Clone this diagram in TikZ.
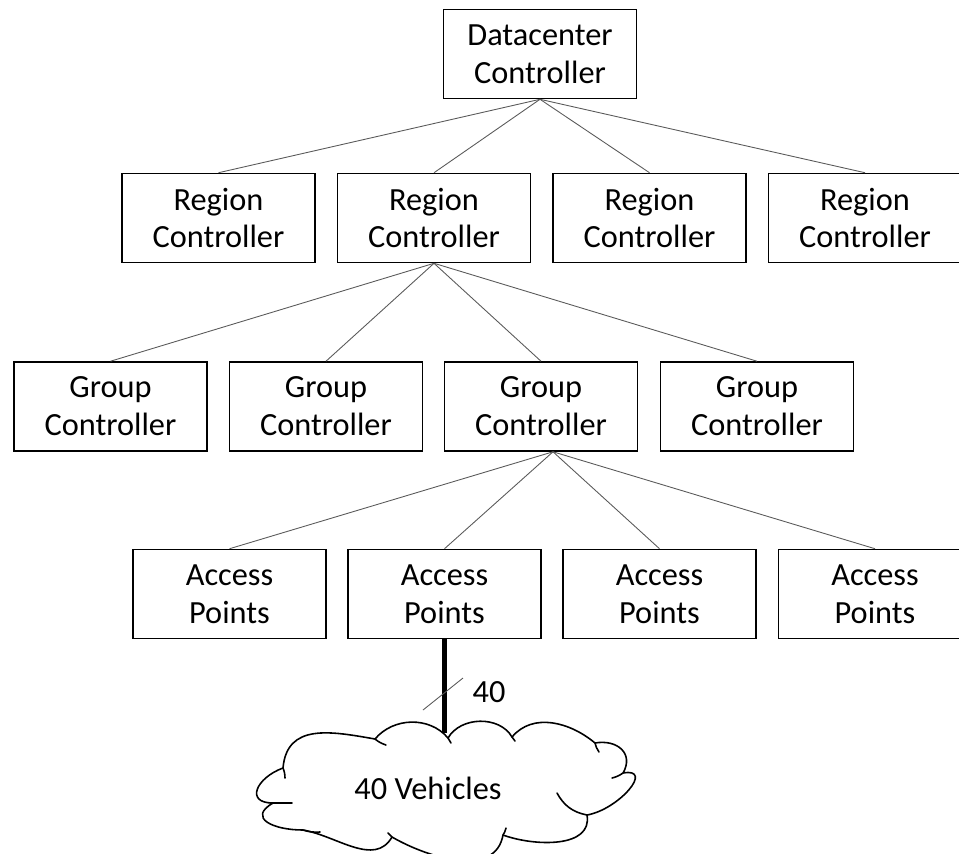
\documentclass[tikz,border=0pt]{standalone}
\usepackage{fontspec}
\setmainfont{Carlito}
\usetikzlibrary{calc}

\begin{document}
\begin{tikzpicture}[x=0.02cm,y=-0.02cm,
  box/.style={draw, line width=0.9pt, minimum width=3.86cm, minimum height=1.78cm,
    align=center, inner sep=0pt, font=\fontsize{18.4}{21.6}\selectfont},
  link/.style={black!65, line width=0.5pt},
  puff/.style={line width=0.9pt, line join=round, line cap=round}]
  \useasboundingbox (0,0) rectangle (959,853);
  \clip (0,0) rectangle (959,853);
  % -=-=-=-=- DATACENTER / REGIONS -=-=-=-=-
  \node[box] (dc) at (540,54) {Datacenter\\Controller};
  \node[box] (r1) at (218.5,218) {Region\\Controller};
  \node[box] (r2) at (434,218) {Region\\Controller};
  \node[box] (r3) at (649.5,218) {Region\\Controller};
  \node[box] (r4) at (865,218) {Region\\Controller};

  % -=-=-=-=- GROUPS -=-=-=-=-
  \node[box] (g1) at (110.5,406.5) {Group\\Controller};
  \node[box] (g2) at (326,406.5) {Group\\Controller};
  \node[box] (g3) at (541,406.5) {Group\\Controller};
  \node[box] (g4) at (757,406.5) {Group\\Controller};

  % -=-=-=-=- ACCESS POINTS -=-=-=-=-
  \node[box] (ap1) at (229.5,594) {Access\\Points};
  \node[box] (ap2) at (444.5,594) {Access\\Points};
  \node[box] (ap3) at (659.5,594) {Access\\Points};
  \node[box] (ap4) at (875,594) {Access\\Points};

  % -=-=-=-=- VEHICLE CLOUD -=-=-=-=-
  \draw[puff] (283,768) to[out=85,in=170,looseness=1.2] (375,739)
    to[out=50,in=130] (448,738)
    to[out=60,in=120] (512,737)
    to[out=50,in=140] (595,743)
    to[out=10,in=60,looseness=1.4] (623,773)
    to[out=10,in=10,looseness=1.5] (587,815)
    to[out=-80,in=-20] (503,835)
    to[out=-100,in=-30] (392,837)
    to[out=-120,in=-10] (303,830)
    to[out=180,in=-150,looseness=1.9] (273,803)
    to[out=180,in=-160,looseness=2] (283,768) -- cycle;
  % small inner arcs of the puffs
  \draw[puff] (283,768) to[bend left=10] (285,778);
  \draw[puff] (375,739) to[bend right=10] (386,745);
  \draw[puff] (448,738) to (451,743);
  \draw[puff] (512,737) to (515,741);
  \draw[puff] (595,743) to[bend right=10] (599,752);
  \draw[puff] (623,773) to[bend left=10] (612,778);
  \draw[puff] (587,815) to[bend left=25] (557,793);
  \draw[puff] (503,835) to[bend right=10] (506,828);
  \draw[puff] (392,837) to (388,833);
  \draw[puff] (303,830) to[bend right=10] (320,832);
  \draw[puff] (273,803) to (292,803);
  \coordinate (vtop) at (444,733);
  \node[font=\fontsize{18.4}{21.6}\selectfont] (veh) at (428,788) {40 Vehicles};

  % -=-=-=-=- LINKS -=-=-=-=-
  \foreach \n in {r1,r2,r3,r4} \draw[link] (dc.south) -- (\n.north);
  \foreach \n in {g1,g2,g3,g4} \draw[link] (r2.south) -- (\n.north);
  \coordinate (g3s) at ($(g3.south)+(12,0)$);
  \foreach \n in {ap1,ap2,ap3,ap4} \draw[link] (g3s) -- (\n.north);

  \draw[line width=2.3pt] (ap2.south) -- (ap2.south |- vtop);
  \coordinate (cut) at (443,694);
  \draw[link] ($(cut)+(-20,16)$) -- ($(cut)+(20,-16)$);
  \node[font=\fontsize{18.4}{21.6}\selectfont] (n40) at (489,692) {40};
\end{tikzpicture}
\end{document}
